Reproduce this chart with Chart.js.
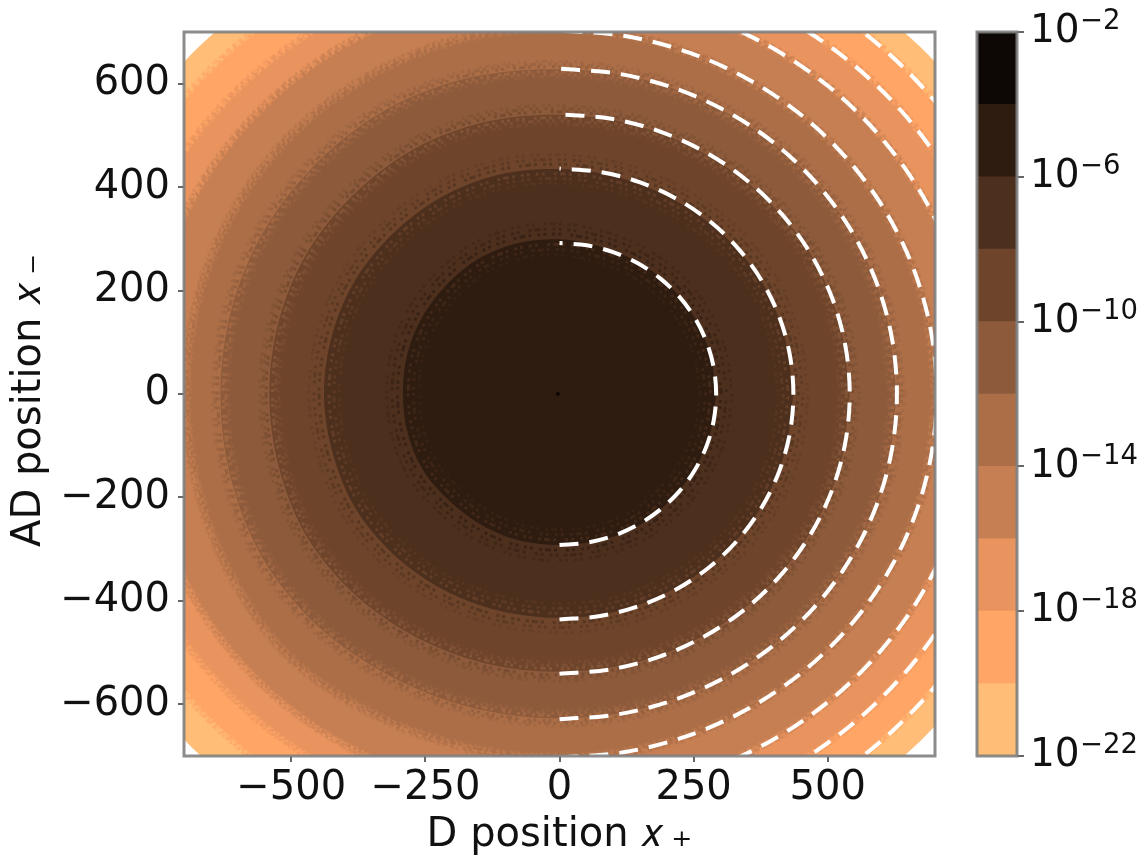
<!DOCTYPE html>
<html>
<head>
<meta charset="utf-8">
<title>D and AD position density</title>
<script src="https://cdn.jsdelivr.net/npm/chart.js@4/dist/chart.umd.min.js"></script>
<style>
    html, body { margin: 0; padding: 0; background: #fff; }
    #wrap { position: relative; width: 1147px; height: 858px; overflow: hidden; filter: blur(0.6px); }
    canvas { position: absolute; top: 0; display: block; }
    #mapChart { left: 0; }
    #barChart { left: 960px; }
</style>
</head>
<body>
<div id="wrap">
    <canvas id="mapChart" width="960" height="858"></canvas>
    <canvas id="barChart" width="187" height="858"></canvas>
</div>
<script>
// Tick labels
const xTicks = [-500, -250, 0, 250, 500];
const yTicks = [-600, -400, -200, 0, 200, 400, 600];
const barTicks = [1e-22, 1e-18, 1e-14, 1e-10, 1e-6, 1e-2];
const barExponents = ['\u221222', '\u221218', '\u221214', '\u221210', '\u22126', '\u22122'];

// Colour levels, lowest decade first
const levelEdges = [1e-22, 1e-20, 1e-18, 1e-16, 1e-14, 1e-12, 1e-10, 1e-8, 1e-6, 1e-4, 1e-2];
const levelColors = ['#ffbd77', '#ffa566', '#e9945f', '#c67f52', '#ab6e47', '#8d5b3c', '#6e452b', '#4d2f1e', '#2e1c10', '#0d0805'];

// Band outlines: radius every 15 degrees, counter clockwise from +x
const bandAngles = [0, 15, 30, 45, 60, 75, 90, 105, 120, 135, 150, 165, 180, 195, 210, 225, 240, 255, 270, 285, 300, 315, 330, 345];
const edge22 = [950, 950, 950, 950, 950, 950, 950, 950, 950, 950, 950, 950, 950, 950, 952, 968, 952, 950, 950, 950, 950, 950, 950, 950];
const edge20 = [900, 900, 900, 902, 901, 900, 900, 900, 903, 905, 904, 901, 900, 901, 906, 908, 906, 903, 900, 900, 900, 900, 900, 900];
const edge18 = [840, 840, 840, 842, 841, 840, 840, 840, 840, 841, 843, 841, 840, 841, 848, 846, 843, 841, 840, 840, 840, 840, 840, 840];
const edge16 = [778, 778, 778, 780, 778, 778, 778, 782, 786, 784, 782, 778, 778, 780, 788, 790, 788, 782, 778, 778, 778, 778, 778, 778];
const edge14 = [703, 702, 703, 702, 700, 704, 708, 711, 710, 708, 703, 699, 696, 699, 706, 716, 710, 705, 704, 703, 702, 703, 703, 703];
const edge12 = [629, 628, 629, 628, 627, 628, 628, 634, 638, 636, 635, 633, 632, 634, 638, 636, 630, 628, 627, 628, 628, 628, 628, 629];
const edge10 = [541, 540, 541, 539, 538, 539, 540, 544, 546, 544, 544, 542, 541, 542, 546, 544, 541, 539, 537, 538, 539, 539, 539, 541];
const edge8 = [436, 434, 435, 434, 432, 433, 435, 439, 440, 439, 440, 439, 439, 438, 440, 438, 436, 434, 433, 434, 433, 434, 435, 435];
const edge6 = [292, 291, 292, 293, 294, 295, 299, 302, 302, 298, 296, 294, 292, 293, 294, 291, 292, 293, 292, 293, 294, 291, 291, 291];
const bandEdges = [edge6, edge8, edge10, edge12, edge14, edge16, edge18, edge20, edge22];

// How far the grainy mix of two neighbouring bands reaches, in axis units
const bandGrain = [30, 28, 18, 15, 8, 6, 5, 4, 0];
const grainOffsets = [-1, -0.66, -0.33, 0.33, 0.66, 1];
const grainAlpha = ['44', '77', 'aa', 'aa', '77', '44'];
const grainDash = [3, 3, 3, 6, 3, 3, 6, 3, 3, 9, 3, 3, 3, 6];

// Peak in the middle, slightly off zero
const peakX = [-3];
const peakY = [0];

// Dashed white contours, right half only
const arcRadii = [292, 436, 541, 629, 703, 778, 840, 900];
const arcAngles = [-90, -80, -70, -60, -50, -40, -30, -20, -10, 0, 10, 20, 30, 40, 50, 60, 70, 80, 90];

const textFont = 'DejaVu Sans';
const spineColor = 'rgba(128, 128, 128, 0.9)';

function polar(radius, degrees) {
    const a = degrees * Math.PI / 180;
    return { x: radius * Math.cos(a), y: radius * Math.sin(a) };
}

function minusSign(value) {
    return String(value).replace('-', '\u2212');
}

function setTicks(list) {
    return axis => { axis.ticks = list.map(value => ({ value })); };
}

// Closed outline through a radius list, shifted outward by offset
function outlineOf(edge, offset) {
    const outline = edge.map((radius, k) => polar(radius + offset, bandAngles[k]));
    outline.push(outline[0]);
    return outline;
}

// Axes frame on all four sides
const framePlugin = {
    id: 'frame',
    afterDatasetsDraw(chart) {
        const { ctx, chartArea: a } = chart;
        ctx.save();
        ctx.strokeStyle = spineColor;
        ctx.lineWidth = 3;
        ctx.strokeRect(a.left, a.top, a.right - a.left, a.bottom - a.top);
        ctx.restore();
    }
};

// Colour bar exponents, smaller and raised next to the tick label
const exponentPlugin = {
    id: 'exponents',
    afterDraw(chart) {
        const { ctx, scales } = chart;
        ctx.save();
        ctx.fillStyle = '#111111';
        ctx.font = '27.5px "' + textFont + '"';
        ctx.textAlign = 'left';
        ctx.textBaseline = 'middle';
        barTicks.forEach((value, i) => {
            ctx.fillText(barExponents[i], 120, scales.y.getPixelForValue(value) - 10);
        });
        ctx.restore();
    }
};

function createMapChart() {
    const datasets = [];

    arcRadii.forEach(radius => {
        datasets.push({
            data: arcAngles.map(deg => polar(radius, deg)),
            showLine: true,
            borderColor: '#ffffff',
            borderWidth: 4,
            borderDash: [19, 11],
            tension: 0.33,
            capBezierPoints: false,
            pointRadius: 0,
            fill: false,
            clip: 0
        });
    });

    datasets.push({
        data: peakX.map((x, i) => ({ x, y: peakY[i] })),
        pointRadius: 2,
        pointBackgroundColor: levelColors[9],
        pointBorderWidth: 0
    });

    // Dotted rings of each colour reaching over the edge into the neighbouring band
    bandEdges.forEach((edge, i) => {
        if (!bandGrain[i]) return;
        grainOffsets.forEach((step, k) => {
            const color = step > 0 ? levelColors[8 - i] : levelColors[7 - i];
            datasets.push({
                data: outlineOf(edge, step * bandGrain[i]),
                showLine: true,
                tension: 0.33,
                capBezierPoints: false,
                pointRadius: 0,
                fill: false,
                borderColor: color + grainAlpha[k],
                borderWidth: 3,
                borderDash: grainDash,
                borderDashOffset: k * 7 + i * 4,
                clip: 0
            });
        });
    });

    // Inner band first so it ends up on top
    bandEdges.forEach((edge, i) => {
        datasets.push({
            data: outlineOf(edge, 0),
            showLine: true,
            tension: 0.33,
            capBezierPoints: false,
            pointRadius: 0,
            fill: 'shape',
            backgroundColor: levelColors[8 - i],
            borderColor: 'transparent',
            borderWidth: 1,
            clip: 0
        });
    });

    new Chart(document.getElementById('mapChart'), {
        type: 'scatter',
        data: { datasets },
        plugins: [framePlugin],
        options: {
            responsive: false,
            animation: false,
            layout: { padding: { top: 32, right: 25, left: 0, bottom: 0 } },
            plugins: { legend: { display: false }, tooltip: { enabled: false } },
            scales: {
                x: {
                    type: 'linear',
                    min: -700,
                    max: 700,
                    afterBuildTicks: setTicks(xTicks),
                    afterFit: axis => { axis.height = 102; },
                    border: { display: false },
                    grid: { drawOnChartArea: false, color: '#666666', lineWidth: 2, tickLength: 6 },
                    ticks: {
                        color: '#111111',
                        font: { family: textFont, size: 40 },
                        padding: 3,
                        maxRotation: 0,
                        autoSkip: false,
                        callback: minusSign
                    },
                    title: {
                        display: true,
                        text: 'D position 𝑥\u2009₊',
                        color: '#111111',
                        font: { family: textFont, size: 40, lineHeight: 1.1 },
                        padding: 0
                    }
                },
                y: {
                    type: 'linear',
                    min: -700,
                    max: 700,
                    afterBuildTicks: setTicks(yTicks),
                    afterFit: axis => { axis.width = 184; },
                    border: { display: false },
                    grid: { drawOnChartArea: false, color: '#666666', lineWidth: 2, tickLength: 6 },
                    ticks: {
                        color: '#111111',
                        font: { family: textFont, size: 40 },
                        padding: 8,
                        autoSkip: false,
                        callback: minusSign
                    },
                    title: {
                        display: true,
                        text: 'AD position 𝑥\u2009₋ ',
                        color: '#111111',
                        font: { family: textFont, size: 40 },
                        padding: { top: 6, bottom: 0 }
                    }
                }
            }
        }
    });
}

function createBarChart() {
    const datasets = levelColors.map((color, i) => ({
        data: [[levelEdges[i], levelEdges[i + 1]]],
        backgroundColor: color,
        borderWidth: 0,
        barPercentage: 1,
        categoryPercentage: 1,
        grouped: false
    }));

    new Chart(document.getElementById('barChart'), {
        type: 'bar',
        data: { labels: ['level'], datasets },
        plugins: [framePlugin, exponentPlugin],
        options: {
            responsive: false,
            animation: false,
            layout: { padding: { top: 32, left: 17, right: 0, bottom: 102 } },
            plugins: { legend: { display: false }, tooltip: { enabled: false } },
            scales: {
                x: { display: false },
                y: {
                    type: 'logarithmic',
                    position: 'right',
                    min: 1e-22,
                    max: 1e-2,
                    afterBuildTicks: setTicks(barTicks),
                    afterFit: axis => { axis.width = 130; },
                    border: { display: false },
                    grid: { drawOnChartArea: false, color: '#666666', lineWidth: 2, tickLength: 7 },
                    ticks: {
                        color: '#111111',
                        font: { family: textFont, size: 39 },
                        padding: 6,
                        autoSkip: false,
                        callback: () => '10'
                    }
                }
            }
        }
    });
}

document.addEventListener('DOMContentLoaded', () => {
    createMapChart();
    createBarChart();
});
</script>
</body>
</html>
